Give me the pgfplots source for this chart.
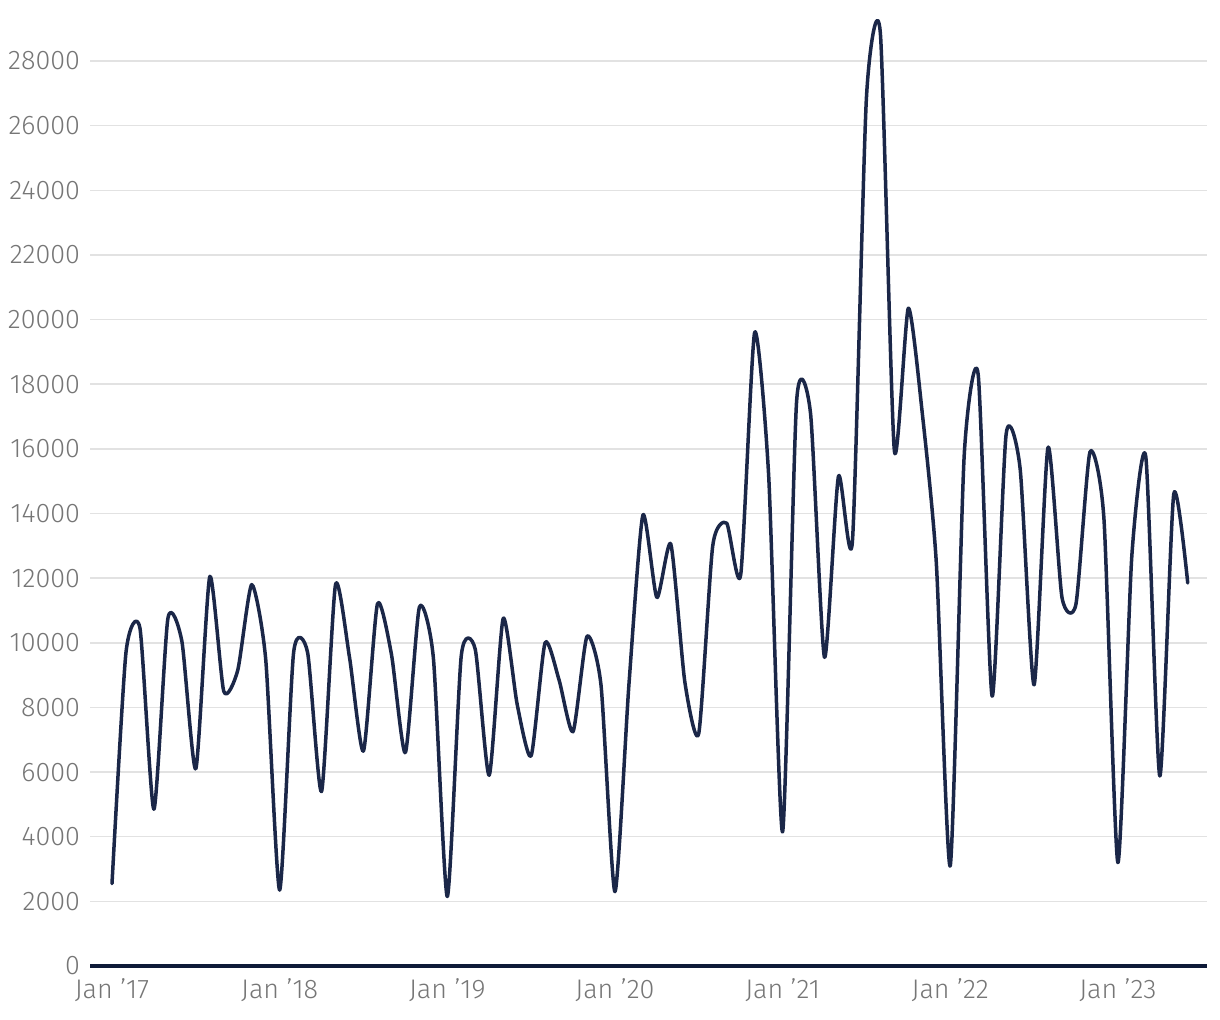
\documentclass[border=0pt]{standalone}
\usepackage{fontspec}
\setmainfont{Fira Sans}[UprightFont=* Light]
\usepackage{pgfplots}
\pgfplotsset{compat=1.18}
\definecolor{navy}{HTML}{1B2748}
\definecolor{axisnavy}{HTML}{0E1A38}
\definecolor{gridgrey}{HTML}{E2E2E2}
\definecolor{labelgrey}{HTML}{767676}
\begin{document}
\begin{tikzpicture}
\begin{axis}[
  scale only axis,
  width=558.5bp, height=478.35bp,
  xmin=-1.575, xmax=78.38,
  ymin=0, ymax=29600,
  axis x line*=bottom,
  axis y line*=left,
  x axis line style={draw=none},
  y axis line style={draw=none},
  ymajorgrids,
  grid style={draw=gridgrey, line width=0.75bp},
  major tick length=0pt,
  scaled y ticks=false,
  ytick={0,2000,...,28000},
  xtick={0,12,24,36,48,60,72},
  xticklabels={Jan ’17,Jan ’18,Jan ’19,Jan ’20,Jan ’21,Jan ’22,Jan ’23},
  yticklabel={\pgfmathprintnumber[fixed,precision=0,1000 sep={}]{\tick}},
  /pgf/number format/1000 sep={},
  /pgf/number format/assume math mode=true,
  tick label style={font=\fontsize{13.5}{15}\selectfont, text=labelgrey},
  yticklabel style={xshift=-1.5bp},
  xticklabel style={yshift=-3bp},
  clip=false,
]
\addplot[navy, line width=1.75bp, smooth, tension=0.38, line join=round, line cap=round] coordinates {
(0,2550) (1,9700) (2,10450) (3,4850) (4,10750) (5,10050) (6,6100) (7,12050)
(8,8500) (9,9150) (10,11800) (11,9500) (12,2350) (13,9700) (14,9700) (15,5400)
(16,11800) (17,9550) (18,6650) (19,11200) (20,9650) (21,6600) (22,11100) (23,9550)
(24,2150) (25,9600) (26,9800) (27,5900) (28,10750) (29,8100) (30,6500) (31,10000)
(32,8850) (33,7250) (34,10200) (35,8700) (36,2300) (37,8700) (38,13950) (39,11400)
(40,13050) (41,8800) (42,7200) (43,13000) (44,13700) (45,12100) (46,19600) (47,15200)
(48,4150) (49,17450) (50,17100) (51,9550) (52,15150) (53,13150) (54,26850) (55,28850)
(56,15950) (57,20350) (58,17100) (59,12500) (60,3100) (61,15800) (62,18300) (63,8350)
(64,16450) (65,15400) (66,8700) (67,16050) (68,11400) (69,11200) (70,15900) (71,13850)
(72,3200) (73,12700) (74,15750) (75,5880) (76,14600) (77,11850)
};
\draw[axisnavy, line width=2bp] (axis cs:-1.575,0) -- (axis cs:78.38,0);
\end{axis}
\pgfresetboundingbox
\path (current axis.south west) ++(-45bp,-27bp) rectangle ++(610bp,510bp);
\end{tikzpicture}
\end{document}
